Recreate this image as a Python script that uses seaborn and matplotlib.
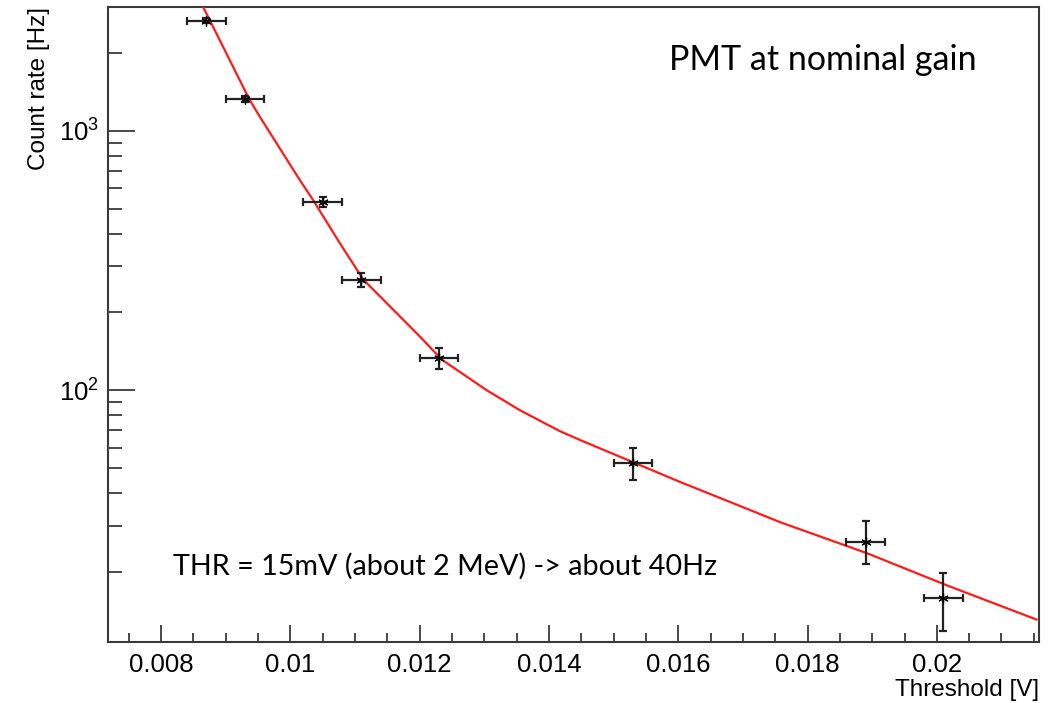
import numpy as np
import pandas as pd
import matplotlib
matplotlib.use("Agg")
import matplotlib.pyplot as plt
from matplotlib.ticker import MultipleLocator, LogLocator, NullFormatter, FixedLocator
import seaborn as sns

# ---- data ----
thr_v = [0.0087, 0.0093, 0.0105, 0.0111, 0.0123, 0.0153, 0.0189, 0.0201]
rate_hz = [2660, 1325, 532, 267, 132.5, 52.6, 26.1, 15.8]
rate_err_lo = [60, 35, 25, 16, 11.5, 7.6, 4.8, 4.0]
rate_err_hi = [60, 35, 25, 17, 12.5, 7.4, 5.3, 3.9]
thr_err = [0.0003] * 8

fit_x = [0.008654, 0.009366, 0.009531, 0.01015, 0.010356, 0.01077, 0.01113,
         0.012006, 0.012342, 0.013038, 0.013553, 0.014172, 0.0145, 0.015316,
         0.016028, 0.0168, 0.017575, 0.018925, 0.020153, 0.021545]
fit_y = [3000, 1325, 1132, 645, 540, 368, 267,
         161, 131.3, 100, 83.7, 69.5, 64.0, 52.6,
         44.3, 37.1, 31.0, 23.5, 17.7, 13.05]

xticks_major = [0.008, 0.01, 0.012, 0.014, 0.016, 0.018, 0.02]
xtick_labels = ["0.008", "0.01", "0.012", "0.014", "0.016", "0.018", "0.02"]

title_text = "PMT at nominal gain"
note_text = "THR = 15mV (about 2 MeV) -> about 40Hz"

# ---- style ----
sns.set_style("ticks")
plt.rcParams["font.family"] = ["Liberation Sans", "DejaVu Sans"]
plt.rcParams["mathtext.fontset"] = "custom"
plt.rcParams["mathtext.rm"] = "Liberation Sans"
plt.rcParams["text.color"] = "black"
plt.rcParams["axes.labelcolor"] = "black"
plt.rcParams["xtick.labelcolor"] = "black"
plt.rcParams["ytick.labelcolor"] = "black"

W, H = 1053, 703
fig = plt.figure(figsize=(W / 100, H / 100), dpi=100)
ax = fig.add_axes([108.5 / W, (H - 642) / H, (1039 - 108.5) / W, (642 - 7) / H])

fit_df = pd.DataFrame({"x": fit_x, "y": fit_y})
pts_df = pd.DataFrame({"x": thr_v, "y": rate_hz})

sns.lineplot(data=fit_df, x="x", y="y", ax=ax, color="#ff1a1a", lw=1.6,
             sort=False, estimator=None, zorder=3)

ax.errorbar(thr_v, rate_hz, xerr=thr_err, yerr=[rate_err_lo, rate_err_hi],
            fmt="none", ecolor="#222222", elinewidth=1.6, capsize=2.6,
            capthick=1.6, zorder=4)
sns.scatterplot(data=pts_df, x="x", y="y", ax=ax, marker=(6, 2, 0), s=45,
                color="black", linewidth=0.9, edgecolor="black", zorder=5)

ax.set_yscale("log")
ax.set_xlim(0.00719, 0.02158)
ax.set_ylim(10.7, 3000)

ax.xaxis.set_major_locator(FixedLocator(xticks_major))
ax.set_xticklabels(xtick_labels)
ax.xaxis.set_minor_locator(MultipleLocator(0.0005))
ax.yaxis.set_major_locator(LogLocator(base=10, numticks=10))
ax.yaxis.set_minor_locator(LogLocator(base=10, subs=np.arange(2, 10), numticks=20))
ax.yaxis.set_minor_formatter(NullFormatter())

spine_col = "#3a3a3a"
for side in ["left", "bottom", "right", "top"]:
    ax.spines[side].set_visible(True)
    ax.spines[side].set_color(spine_col)
    ax.spines[side].set_linewidth(1.5)

ax.tick_params(axis="x", which="major", direction="in", length=12.5, width=1.3,
               color=spine_col, labelsize=18.5, pad=8, top=False)
ax.tick_params(axis="x", which="minor", direction="in", length=6.5, width=1.3,
               color=spine_col, top=False)
ax.tick_params(axis="y", which="major", direction="in", length=19.5, width=1.3,
               color=spine_col, labelsize=18.5, pad=7, right=False)
ax.tick_params(axis="y", which="minor", direction="in", length=10, width=1.3,
               color=spine_col, right=False)

ax.set_xlabel("Threshold [V]", loc="right", fontsize=17.5, labelpad=1.5)
ax.set_ylabel("Count rate [Hz]", loc="top", fontsize=17.5, labelpad=6)

ann_font = ["Lato", "DejaVu Sans"]
fig.text(669 / W, 1 - 70 / H, title_text, fontsize=24.5, family=ann_font,
         ha="left", va="baseline", color="black")
fig.text(173 / W, 1 - 575 / H, note_text, fontsize=20.7, family=ann_font,
         ha="left", va="baseline", color="black")

fig.savefig("out.png", dpi=100, facecolor="white")
